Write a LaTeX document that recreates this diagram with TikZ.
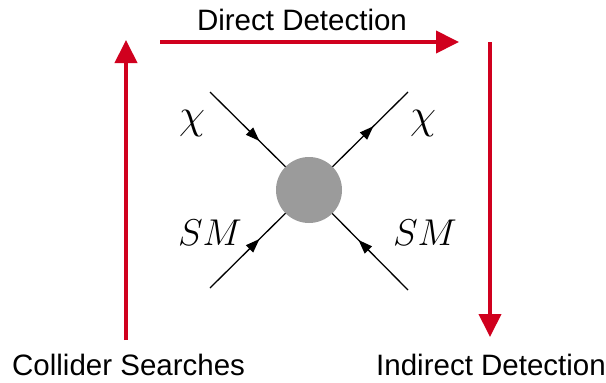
\documentclass[tikz,border=0pt]{standalone}
\usepackage{fontspec}
\usepackage{graphicx}
\setsansfont{Liberation Sans}
\usetikzlibrary{arrows.meta,decorations.markings}
\definecolor{redarrow}{RGB}{208,0,30}
\definecolor{blobgray}{RGB}{155,155,155}
\tikzset{
  bigarrow/.style={draw=redarrow,line width=4pt,-{Triangle[length=23pt,width=22pt]}},
  caption/.style={font=\sffamily\fontsize{29.5}{32}\selectfont,inner sep=0pt},
  fermion in/.style={line width=1.3pt,postaction={decorate},decoration={markings,mark=at position 0.5 with {\arrow{Triangle[length=14pt,width=10pt]}}}},
  fermion out/.style={line width=1.3pt,postaction={decorate},decoration={markings,mark=at position 0.35 with {\arrowreversed{Triangle[length=14pt,width=10pt]}}}},
  lbl/.style={inner sep=0pt,font=\fontsize{24.88}{28}\selectfont},
  blob/.style={circle,fill=blobgray,minimum size=66pt,inner sep=0pt}
}
\begin{document}
\begin{tikzpicture}[x=1pt,y=-1pt]
\useasboundingbox (0,0) rectangle (606,383);
% external points
\coordinate (tl) at (210,92);
\coordinate (tr) at (408,92);
\coordinate (bl) at (210,288);
\coordinate (br) at (408,290);
\coordinate (v0) at (309,190);
\draw[fermion in] (tl) -- (v0);
\draw[fermion out] (tr) -- (v0);
\draw[fermion in] (bl) -- (v0);
\draw[fermion in] (br) -- (v0);
\node[blob] (v) at (v0) {};
% labels
\node[lbl] (chil) at (192,124) {\scalebox{1.7}{$\chi$}};
\node[lbl] (chir) at (423,124) {\scalebox{1.7}{$\chi$}};
\node[lbl] (sml) at (210,233) {\scalebox{1.5}{$SM$}};
\node[lbl] (smr) at (425,233) {\scalebox{1.5}{$SM$}};
% red arrows
\coordinate (h0) at (160,42);
\coordinate (h1) at (459,42);
\coordinate (l0) at (126,340);
\coordinate (l1) at (126,40);
\coordinate (r0) at (490,42);
\coordinate (r1) at (490,337);
\draw[bigarrow] (h0) -- (h1);
\draw[bigarrow] (l0) -- (l1);
\draw[bigarrow] (r0) -- (r1);
% captions
\node[caption] (dd) at (302,20) {Direct Detection};
\node[caption,anchor=west] (cs) at (12,365) {Collider Searches};
\node[caption,anchor=east] (id) at (606,365) {Indirect Detection};
\end{tikzpicture}
\end{document}
